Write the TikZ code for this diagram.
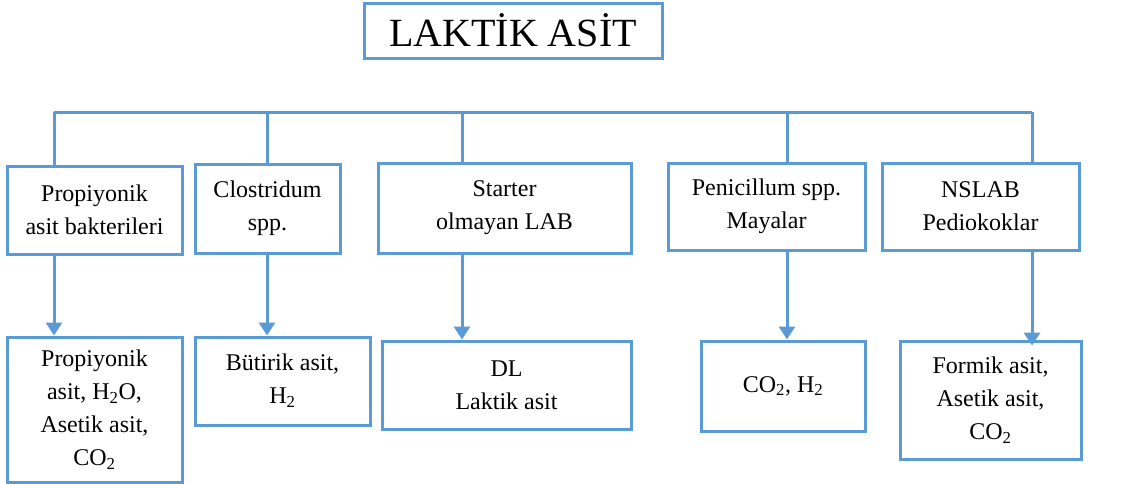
\documentclass[tikz,border=0pt]{standalone}
\usepackage{fontspec}
\setmainfont{Liberation Serif}
\usetikzlibrary{arrows.meta}
\definecolor{kutu}{RGB}{91,155,213}
\tikzset{
    kutu/.style={draw=kutu, line width=3pt, align=center, inner sep=0pt,
        font=\fontsize{24}{33}\selectfont},
    ok/.style={draw=kutu, line width=3pt, -{Triangle[width=16pt,length=13pt]}},
    hat/.style={draw=kutu, line width=3pt}
}
\begin{document}
\begin{tikzpicture}[x=1pt, y=-1pt]
        \useasboundingbox (0, 0) rectangle (1141, 483);

        \node[kutu, minimum width=298pt, minimum height=55pt, font=\fontsize{40}{44}\selectfont] (baslik) at(513, 30.5){LAKT\.IK AS\.IT};

        \node[kutu, minimum width=175pt, minimum height=88pt] (ust1) at(94.5, 210){Propiyonik\\asit bakterileri};
        \node[kutu, minimum width=145pt, minimum height=89pt] (ust2) at(267.5, 208.5){Clostridum\\spp.};
        \node[kutu, minimum width=253pt, minimum height=90pt] (ust3) at(504.5, 208){Starter\\olmayan LAB};
        \node[kutu, minimum width=197pt, minimum height=87pt] (ust4) at(766.5, 206.5){Penicillum spp.\\Mayalar};
        \node[kutu, minimum width=197pt, minimum height=87pt] (ust5) at(980.5, 206.5){NSLAB\\Pediokoklar};

        \node[kutu, minimum width=175pt, minimum height=145pt] (alt1) at(94.5, 409.5){Propiyonik\\asit, H\textsubscript{2}O,\\Asetik asit,\\CO\textsubscript{2}};
        \node[kutu, minimum width=175pt, minimum height=88pt] (alt2) at(282.5, 381){B\"utirik asit,\\H\textsubscript{2}};
        \node[kutu, minimum width=249pt, minimum height=88pt] (alt3) at(506.5, 385){DL\\Laktik asit};
        \node[kutu, minimum width=164pt, minimum height=90pt] (alt4) at(783, 386){CO\textsubscript{2}, H\textsubscript{2}};
        \node[kutu, minimum width=181pt, minimum height=118pt] (alt5) at(990.5, 400){Formik asit,\\Asetik asit,\\CO\textsubscript{2}};

        \coordinate (k1) at(54, 112);
        \coordinate (k2) at(267, 112);
        \coordinate (k3) at(462, 112);
        \coordinate (k4) at(787, 112);
        \coordinate (k5) at(1032, 112);

        \draw[hat] (k1) -- (k5);
        \draw[hat] (k1) -- (k1 |- ust1.north);
        \draw[hat] (k2) -- (k2 |- ust2.north);
        \draw[hat] (k3) -- (k3 |- ust3.north);
        \draw[hat] (k4) -- (k4 |- ust4.north);
        \draw[hat] (k5) -- (k5 |- ust5.north);

        \draw[ok] (k1 |- ust1.south) -- (k1 |- alt1.north);
        \draw[ok] (k2 |- ust2.south) -- (k2 |- alt2.north);
        \draw[ok] (k3 |- ust3.south) -- (k3 |- alt3.north);
        \draw[ok] (k4 |- ust4.south) -- (k4 |- alt4.north);
        \draw[ok] (k5 |- ust5.south) -- ([yshift=-6pt]k5 |- alt5.north);
    \end{tikzpicture}
\end{document}
